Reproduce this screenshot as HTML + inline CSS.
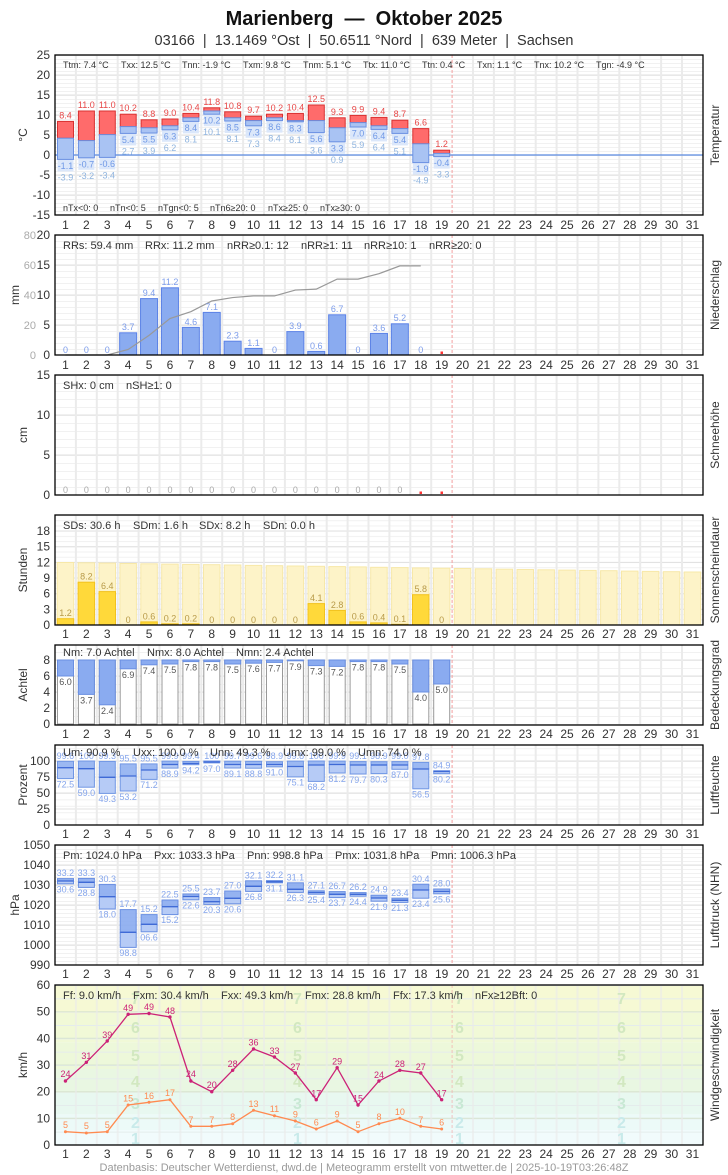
<!DOCTYPE html>
<html><head><meta charset="utf-8"><style>
html,body{margin:0;padding:0;background:#fff;}
svg{display:block;font-family:"Liberation Sans",sans-serif;}
.tk{font-size:12px;fill:#333;text-anchor:end}
.st{font-size:11px;fill:#333}
.st9{font-size:9px;fill:#333}
.rl{font-size:12px;fill:#333;text-anchor:middle}
.dl text{font-size:12px;fill:#333;text-anchor:middle}
.v9{font-size:9px;text-anchor:middle}
</style></head><body>
<svg width="728" height="1175" viewBox="0 0 728 1175" xmlns="http://www.w3.org/2000/svg">
<defs>
<g id="vg" stroke="#ebebeb" stroke-width="2">
<line x1="75.9" y1="0" x2="75.9" y2="1" vector-effect="non-scaling-stroke"/><line x1="96.8" y1="0" x2="96.8" y2="1" vector-effect="non-scaling-stroke"/><line x1="117.7" y1="0" x2="117.7" y2="1" vector-effect="non-scaling-stroke"/><line x1="138.6" y1="0" x2="138.6" y2="1" vector-effect="non-scaling-stroke"/><line x1="159.5" y1="0" x2="159.5" y2="1" vector-effect="non-scaling-stroke"/><line x1="180.4" y1="0" x2="180.4" y2="1" vector-effect="non-scaling-stroke"/><line x1="201.3" y1="0" x2="201.3" y2="1" vector-effect="non-scaling-stroke"/><line x1="222.2" y1="0" x2="222.2" y2="1" vector-effect="non-scaling-stroke"/><line x1="243.1" y1="0" x2="243.1" y2="1" vector-effect="non-scaling-stroke"/><line x1="264" y1="0" x2="264" y2="1" vector-effect="non-scaling-stroke"/><line x1="284.9" y1="0" x2="284.9" y2="1" vector-effect="non-scaling-stroke"/><line x1="305.8" y1="0" x2="305.8" y2="1" vector-effect="non-scaling-stroke"/><line x1="326.7" y1="0" x2="326.7" y2="1" vector-effect="non-scaling-stroke"/><line x1="347.6" y1="0" x2="347.6" y2="1" vector-effect="non-scaling-stroke"/><line x1="368.5" y1="0" x2="368.5" y2="1" vector-effect="non-scaling-stroke"/><line x1="389.4" y1="0" x2="389.4" y2="1" vector-effect="non-scaling-stroke"/><line x1="410.3" y1="0" x2="410.3" y2="1" vector-effect="non-scaling-stroke"/><line x1="431.2" y1="0" x2="431.2" y2="1" vector-effect="non-scaling-stroke"/><line x1="473" y1="0" x2="473" y2="1" vector-effect="non-scaling-stroke"/><line x1="493.9" y1="0" x2="493.9" y2="1" vector-effect="non-scaling-stroke"/><line x1="514.8" y1="0" x2="514.8" y2="1" vector-effect="non-scaling-stroke"/><line x1="535.7" y1="0" x2="535.7" y2="1" vector-effect="non-scaling-stroke"/><line x1="556.6" y1="0" x2="556.6" y2="1" vector-effect="non-scaling-stroke"/><line x1="577.5" y1="0" x2="577.5" y2="1" vector-effect="non-scaling-stroke"/><line x1="598.4" y1="0" x2="598.4" y2="1" vector-effect="non-scaling-stroke"/><line x1="619.3" y1="0" x2="619.3" y2="1" vector-effect="non-scaling-stroke"/><line x1="640.2" y1="0" x2="640.2" y2="1" vector-effect="non-scaling-stroke"/><line x1="661.1" y1="0" x2="661.1" y2="1" vector-effect="non-scaling-stroke"/><line x1="682" y1="0" x2="682" y2="1" vector-effect="non-scaling-stroke"/>
<line x1="452.1" y1="0" x2="452.1" y2="1" stroke="#f4a0a0" stroke-width="1" stroke-dasharray="3,2" vector-effect="non-scaling-stroke"/>
</g>
<g id="dl" class="dl"><text x="65.45">1</text><text x="86.35">2</text><text x="107.25">3</text><text x="128.15">4</text><text x="149.05">5</text><text x="169.95">6</text><text x="190.85">7</text><text x="211.75">8</text><text x="232.65">9</text><text x="253.55">10</text><text x="274.45">11</text><text x="295.35">12</text><text x="316.25">13</text><text x="337.15">14</text><text x="358.05">15</text><text x="378.95">16</text><text x="399.85">17</text><text x="420.75">18</text><text x="441.65">19</text><text x="462.55">20</text><text x="483.45">21</text><text x="504.35">22</text><text x="525.25">23</text><text x="546.15">24</text><text x="567.05">25</text><text x="587.95">26</text><text x="608.85">27</text><text x="629.75">28</text><text x="650.65">29</text><text x="671.55">30</text><text x="692.45">31</text></g>
<pattern id="p4" patternUnits="userSpaceOnUse" width="10" height="4" y="55"><line x1="0" y1="0.5" x2="10" y2="0.5" stroke="#f1f1f1" stroke-width="1"/></pattern>
<pattern id="p6" patternUnits="userSpaceOnUse" width="10" height="6" y="235"><line x1="0" y1="0.5" x2="10" y2="0.5" stroke="#f1f1f1" stroke-width="1"/></pattern>
<pattern id="p8" patternUnits="userSpaceOnUse" width="10" height="8" y="375"><line x1="0" y1="0.5" x2="10" y2="0.5" stroke="#f1f1f1" stroke-width="1"/></pattern>
<pattern id="p5" patternUnits="userSpaceOnUse" width="10" height="5.22" y="515"><line x1="0" y1="0.5" x2="10" y2="0.5" stroke="#f1f1f1" stroke-width="1"/></pattern>
<pattern id="pc" patternUnits="userSpaceOnUse" width="10" height="8" y="644"><line x1="0" y1="0.5" x2="10" y2="0.5" stroke="#f1f1f1" stroke-width="1"/></pattern>
<pattern id="ph" patternUnits="userSpaceOnUse" width="10" height="6.4" y="825"><line x1="0" y1="0.5" x2="10" y2="0.5" stroke="#f1f1f1" stroke-width="1"/></pattern>
<pattern id="pp" patternUnits="userSpaceOnUse" width="10" height="4" y="845"><line x1="0" y1="0.5" x2="10" y2="0.5" stroke="#f1f1f1" stroke-width="1"/></pattern>
<pattern id="pw" patternUnits="userSpaceOnUse" width="10" height="13.33" y="985"><line x1="0" y1="0.5" x2="10" y2="0.5" stroke="#e4ecec" stroke-width="1"/></pattern>
</defs>

<!-- Title -->
<text x="364" y="25" font-size="20" font-weight="bold" text-anchor="middle" fill="#111" xml:space="preserve">Marienberg  —  Oktober 2025</text>
<text x="364" y="45" font-size="14.5" text-anchor="middle" fill="#333" xml:space="preserve">03166  |  13.1469 °Ost  |  50.6511 °Nord  |  639 Meter  |  Sachsen</text>

<!-- ===== Temperature ===== -->
<rect x="55" y="55" width="648" height="160" fill="url(#p4)"/>
<g stroke="#e0e0e0" stroke-width="1"><line x1="55" y1="75" x2="703" y2="75"/><line x1="55" y1="95" x2="703" y2="95"/><line x1="55" y1="115" x2="703" y2="115"/><line x1="55" y1="135" x2="703" y2="135"/><line x1="55" y1="175" x2="703" y2="175"/><line x1="55" y1="195" x2="703" y2="195"/></g>
<use href="#vg" transform="translate(0,55) scale(1,160)"/>
<line x1="55" y1="155" x2="703" y2="155" stroke="#5a8ae0" stroke-width="1.2"/>
<g class="tk"><text x="50" y="59">25</text><text x="50" y="79">20</text><text x="50" y="99">15</text><text x="50" y="119">10</text><text x="50" y="139">5</text><text x="50" y="159">0</text><text x="50" y="179">-5</text><text x="50" y="199">-10</text><text x="50" y="219">-15</text></g>
<text transform="translate(27,135) rotate(-90)" class="rl">°C</text>
<text transform="translate(719,135) rotate(-90)" class="rl">Temperatur</text>
<g fill="#dbe7fa">
<rect x="57.5" y="159.4" width="16" height="12"/><rect x="78.4" y="157.8" width="16" height="12"/><rect x="99.3" y="157.4" width="16" height="12"/><rect x="120.2" y="133.4" width="16" height="12"/><rect x="141.1" y="133" width="16" height="12"/><rect x="162" y="129.8" width="16" height="12"/><rect x="182.9" y="121.4" width="16" height="12"/><rect x="203.8" y="114.2" width="16" height="12"/><rect x="224.7" y="121" width="16" height="12"/><rect x="245.6" y="125.8" width="16" height="12"/><rect x="266.5" y="120.6" width="16" height="12"/><rect x="287.4" y="121.8" width="16" height="12"/><rect x="308.3" y="132.6" width="16" height="12"/><rect x="329.2" y="141.8" width="16" height="12"/><rect x="350.1" y="127" width="16" height="12"/><rect x="371" y="129.4" width="16" height="12"/><rect x="391.9" y="133.4" width="16" height="12"/><rect x="412.8" y="162.6" width="16" height="12"/><rect x="433.7" y="156.6" width="16" height="12"/>
</g>
<g fill="#ff6b6b" stroke="#d83030" stroke-width="1">
<rect x="57.5" y="121.4" width="16" height="16.8"/><rect x="78.4" y="111" width="16" height="29.6"/><rect x="99.3" y="111" width="16" height="23.6"/><rect x="120.2" y="114.2" width="16" height="12.4"/><rect x="141.1" y="119.8" width="16" height="8"/><rect x="162" y="119" width="16" height="6.8"/><rect x="182.9" y="113.4" width="16" height="4.4"/><rect x="203.8" y="107.8" width="16" height="3.2"/><rect x="224.7" y="111.8" width="16" height="6"/><rect x="245.6" y="116.2" width="16" height="4.4"/><rect x="266.5" y="114.2" width="16" height="3.6"/><rect x="287.4" y="113.4" width="16" height="7.2"/><rect x="308.3" y="105" width="16" height="15.6"/><rect x="329.2" y="117.8" width="16" height="10"/><rect x="350.1" y="115.4" width="16" height="7.2"/><rect x="371" y="117.4" width="16" height="8.4"/><rect x="391.9" y="120.2" width="16" height="8.4"/><rect x="412.8" y="128.6" width="16" height="15.2"/><rect x="433.7" y="150.2" width="16" height="3.2"/>
</g>
<g fill="#a9c3f3" stroke="#6a90e2" stroke-width="1">
<rect x="57.5" y="138.2" width="16" height="21.2"/><rect x="78.4" y="140.6" width="16" height="17.2"/><rect x="99.3" y="134.6" width="16" height="22.8"/><rect x="120.2" y="126.6" width="16" height="6.8"/><rect x="141.1" y="127.8" width="16" height="5.2"/><rect x="162" y="125.8" width="16" height="4"/><rect x="182.9" y="117.8" width="16" height="3.6"/><rect x="203.8" y="111" width="16" height="3.2"/><rect x="224.7" y="117.8" width="16" height="3.2"/><rect x="245.6" y="120.6" width="16" height="5.2"/><rect x="266.5" y="117.8" width="16" height="2.8"/><rect x="287.4" y="120.6" width="16" height="1.2"/><rect x="308.3" y="120.6" width="16" height="12"/><rect x="329.2" y="127.8" width="16" height="14"/><rect x="350.1" y="122.6" width="16" height="4.4"/><rect x="371" y="125.8" width="16" height="3.6"/><rect x="391.9" y="128.6" width="16" height="4.8"/><rect x="412.8" y="143.8" width="16" height="18.8"/><rect x="433.7" y="153.4" width="16" height="3.2"/>
</g>
<g class="v9" fill="#e84848">
<text x="65.45" y="118.4">8.4</text><text x="86.35" y="108">11.0</text><text x="107.25" y="108">11.0</text><text x="128.15" y="111.2">10.2</text><text x="149.05" y="116.8">8.8</text><text x="169.95" y="116">9.0</text><text x="190.85" y="110.4">10.4</text><text x="211.75" y="104.8">11.8</text><text x="232.65" y="108.8">10.8</text><text x="253.55" y="113.2">9.7</text><text x="274.45" y="111.2">10.2</text><text x="295.35" y="110.4">10.4</text><text x="316.25" y="102">12.5</text><text x="337.15" y="114.8">9.3</text><text x="358.05" y="112.4">9.9</text><text x="378.95" y="114.4">9.4</text><text x="399.85" y="117.2">8.7</text><text x="420.75" y="125.6">6.6</text><text x="441.65" y="147.2">1.2</text>
</g>
<g class="v9" fill="#6f98e6">
<text x="65.45" y="168.9">-1.1</text><text x="86.35" y="167.3">-0.7</text><text x="107.25" y="166.9">-0.6</text><text x="128.15" y="142.9">5.4</text><text x="149.05" y="142.5">5.5</text><text x="169.95" y="139.3">6.3</text><text x="190.85" y="130.9">8.4</text><text x="211.75" y="123.7">10.2</text><text x="232.65" y="130.5">8.5</text><text x="253.55" y="135.3">7.3</text><text x="274.45" y="130.1">8.6</text><text x="295.35" y="131.3">8.3</text><text x="316.25" y="142.1">5.6</text><text x="337.15" y="151.3">3.3</text><text x="358.05" y="136.5">7.0</text><text x="378.95" y="138.9">6.4</text><text x="399.85" y="142.9">5.4</text><text x="420.75" y="172.1">-1.9</text><text x="441.65" y="166.1">-0.4</text>
</g>
<g class="v9" fill="#8fb4df">
<text x="65.45" y="180.4">-3.9</text><text x="86.35" y="178.8">-3.2</text><text x="107.25" y="178.4">-3.4</text><text x="128.15" y="154.4">2.7</text><text x="149.05" y="154">3.9</text><text x="169.95" y="150.8">6.2</text><text x="190.85" y="142.4">8.1</text><text x="211.75" y="135.2">10.1</text><text x="232.65" y="142">8.1</text><text x="253.55" y="146.8">7.3</text><text x="274.45" y="141.6">8.4</text><text x="295.35" y="142.8">8.1</text><text x="316.25" y="153.6">3.6</text><text x="337.15" y="162.8">0.9</text><text x="358.05" y="148">5.9</text><text x="378.95" y="150.4">6.4</text><text x="399.85" y="154.4">5.1</text><text x="420.75" y="183.6">-4.9</text><text x="441.65" y="177.6">-3.3</text>
</g>
<g class="st9"><text x="63" y="68">Ttm: 7.4 °C</text><text x="121" y="68">Txx: 12.5 °C</text><text x="182" y="68">Tnn: -1.9 °C</text><text x="243" y="68">Txm: 9.8 °C</text><text x="303" y="68">Tnm: 5.1 °C</text><text x="363" y="68">Ttx: 11.0 °C</text><text x="422" y="68">Ttn: 0.4 °C</text><text x="477" y="68">Txn: 1.1 °C</text><text x="534" y="68">Tnx: 10.2 °C</text><text x="596" y="68">Tgn: -4.9 °C</text>
<text x="63" y="211">nTx&lt;0: 0</text><text x="110" y="211">nTn&lt;0: 5</text><text x="158" y="211">nTgn&lt;0: 5</text><text x="210" y="211">nTn6≥20: 0</text><text x="268" y="211">nTx≥25: 0</text><text x="320" y="211">nTx≥30: 0</text></g>
<rect x="55" y="55" width="648" height="160" fill="none" stroke="#000" stroke-width="1.3"/>
<use href="#dl" transform="translate(0,229)"/>

<!-- ===== Precipitation ===== -->
<rect x="55" y="235" width="648" height="120" fill="url(#p6)"/>
<g stroke="#e0e0e0"><line x1="55" y1="265" x2="703" y2="265"/><line x1="55" y1="295" x2="703" y2="295"/><line x1="55" y1="325" x2="703" y2="325"/></g>
<use href="#vg" transform="translate(0,235) scale(1,120)"/>
<g class="tk"><text x="50" y="239">20</text><text x="50" y="269">15</text><text x="50" y="299">10</text><text x="50" y="329">5</text><text x="50" y="359">0</text></g>
<g font-size="11" fill="#aaa" text-anchor="end"><text x="36" y="239">80</text><text x="36" y="269">60</text><text x="36" y="299">40</text><text x="36" y="329">20</text><text x="36" y="359">0</text></g>
<text transform="translate(19,295) rotate(-90)" class="rl">mm</text>
<text transform="translate(719,295) rotate(-90)" class="rl">Niederschlag</text>
<g fill="#8aabf0" stroke="#5b82e6">
<rect x="119.65" y="332.8" width="17" height="22.2"/><rect x="140.55" y="298.6" width="17" height="56.4"/><rect x="161.45" y="287.8" width="17" height="67.2"/><rect x="182.35" y="327.4" width="17" height="27.6"/><rect x="203.25" y="312.4" width="17" height="42.6"/><rect x="224.15" y="341.2" width="17" height="13.8"/><rect x="245.05" y="348.4" width="17" height="6.6"/><rect x="286.85" y="331.6" width="17" height="23.4"/><rect x="307.75" y="351.4" width="17" height="3.6"/><rect x="328.65" y="314.8" width="17" height="40.2"/><rect x="370.45" y="333.4" width="17" height="21.6"/><rect x="391.35" y="323.8" width="17" height="31.2"/>
</g>
<polyline fill="none" stroke="#999" stroke-width="1.2" points="65.45,355 86.35,355 107.25,355 128.15,349.45 149.05,335.35 169.95,318.55 190.85,311.65 211.75,301 232.65,297.55 253.55,295.9 274.45,295.9 295.35,290.05 316.25,289.15 337.15,279.1 358.05,279.1 378.95,273.7 399.85,265.9 420.75,265.9"/>
<g class="v9" fill="#7d9deb">
<text x="65.45" y="353">0</text><text x="86.35" y="353">0</text><text x="107.25" y="353">0</text><text x="128.15" y="330">3.7</text><text x="149.05" y="296">9.4</text><text x="169.95" y="285">11.2</text><text x="190.85" y="325">4.6</text><text x="211.75" y="310">7.1</text><text x="232.65" y="338.5">2.3</text><text x="253.55" y="346">1.1</text><text x="274.45" y="353">0</text><text x="295.35" y="329">3.9</text><text x="316.25" y="349">0.6</text><text x="337.15" y="312">6.7</text><text x="358.05" y="353">0</text><text x="378.95" y="331">3.6</text><text x="399.85" y="321">5.2</text><text x="420.75" y="353">0</text>
</g>
<rect x="440.5" y="351.5" width="2.5" height="2.5" fill="#f33"/>
<g class="st"><text x="63" y="249">RRs: 59.4 mm</text><text x="145" y="249">RRx: 11.2 mm</text><text x="227" y="249">nRR≥0.1: 12</text><text x="301" y="249">nRR≥1: 11</text><text x="364" y="249">nRR≥10: 1</text><text x="429" y="249">nRR≥20: 0</text></g>
<rect x="55" y="235" width="648" height="120" fill="none" stroke="#000" stroke-width="1.3"/>
<use href="#dl" transform="translate(0,369)"/>

<!-- ===== Snow ===== -->
<rect x="55" y="375" width="648" height="120" fill="url(#p8)"/>
<g stroke="#e0e0e0"><line x1="55" y1="415" x2="703" y2="415"/><line x1="55" y1="455" x2="703" y2="455"/></g>
<use href="#vg" transform="translate(0,375) scale(1,120)"/>
<g class="tk"><text x="50" y="379">15</text><text x="50" y="419">10</text><text x="50" y="459">5</text><text x="50" y="499">0</text></g>
<text transform="translate(27,435) rotate(-90)" class="rl">cm</text>
<text transform="translate(719,435) rotate(-90)" class="rl">Schneehöhe</text>
<g class="v9" fill="#aaa">
<text x="65.45" y="493">0</text><text x="86.35" y="493">0</text><text x="107.25" y="493">0</text><text x="128.15" y="493">0</text><text x="149.05" y="493">0</text><text x="169.95" y="493">0</text><text x="190.85" y="493">0</text><text x="211.75" y="493">0</text><text x="232.65" y="493">0</text><text x="253.55" y="493">0</text><text x="274.45" y="493">0</text><text x="295.35" y="493">0</text><text x="316.25" y="493">0</text><text x="337.15" y="493">0</text><text x="358.05" y="493">0</text><text x="378.95" y="493">0</text><text x="399.85" y="493">0</text>
</g>
<rect x="419.5" y="491.5" width="2.5" height="2.5" fill="#f33"/><rect x="440.5" y="491.5" width="2.5" height="2.5" fill="#f33"/>
<g class="st"><text x="63" y="389">SHx: 0 cm</text><text x="126" y="389">nSH≥1: 0</text></g>
<rect x="55" y="375" width="648" height="120" fill="none" stroke="#000" stroke-width="1.3"/>

<!-- ===== Sunshine ===== -->
<rect x="55" y="515" width="648" height="110" fill="url(#p5)"/>
<g stroke="#e0e0e0"><line x1="55" y1="531" x2="703" y2="531"/><line x1="55" y1="546.7" x2="703" y2="546.7"/><line x1="55" y1="562.4" x2="703" y2="562.4"/><line x1="55" y1="578" x2="703" y2="578"/><line x1="55" y1="593.7" x2="703" y2="593.7"/><line x1="55" y1="609.3" x2="703" y2="609.3"/></g>
<use href="#vg" transform="translate(0,515) scale(1,110)"/>
<g class="tk"><text x="50" y="535">18</text><text x="50" y="550.7">15</text><text x="50" y="566.4">12</text><text x="50" y="582">9</text><text x="50" y="597.7">6</text><text x="50" y="613.3">3</text><text x="50" y="629">0</text></g>
<text transform="translate(27,570) rotate(-90)" class="rl">Stunden</text>
<text transform="translate(719,570) rotate(-90)" class="rl">Sonnenscheindauer</text>
<g fill="#fdf3c8" stroke="#f7e8a8" stroke-width="1">
<rect x="57.2" y="562.5" width="16.5" height="62.5"/><rect x="78.1" y="562.8" width="16.5" height="62.2"/><rect x="99" y="563.1" width="16.5" height="61.9"/><rect x="119.9" y="563.5" width="16.5" height="61.5"/><rect x="140.8" y="563.8" width="16.5" height="61.2"/><rect x="161.7" y="564.1" width="16.5" height="60.9"/><rect x="182.6" y="564.4" width="16.5" height="60.6"/><rect x="203.5" y="564.7" width="16.5" height="60.3"/><rect x="224.4" y="565" width="16.5" height="60"/><rect x="245.3" y="565.4" width="16.5" height="59.6"/><rect x="266.2" y="565.7" width="16.5" height="59.3"/><rect x="287.1" y="566" width="16.5" height="59"/><rect x="308" y="566.3" width="16.5" height="58.7"/><rect x="328.9" y="566.6" width="16.5" height="58.4"/><rect x="349.8" y="566.9" width="16.5" height="58.1"/><rect x="370.7" y="567.3" width="16.5" height="57.7"/><rect x="391.6" y="567.6" width="16.5" height="57.4"/><rect x="412.5" y="567.9" width="16.5" height="57.1"/><rect x="433.4" y="568.2" width="16.5" height="56.8"/><rect x="454.3" y="568.5" width="16.5" height="56.5"/><rect x="475.2" y="568.8" width="16.5" height="56.2"/><rect x="496.1" y="569.2" width="16.5" height="55.8"/><rect x="517" y="569.5" width="16.5" height="55.5"/><rect x="537.9" y="569.8" width="16.5" height="55.2"/><rect x="558.8" y="570.1" width="16.5" height="54.9"/><rect x="579.7" y="570.4" width="16.5" height="54.6"/><rect x="600.6" y="570.7" width="16.5" height="54.3"/><rect x="621.5" y="571.1" width="16.5" height="53.9"/><rect x="642.4" y="571.4" width="16.5" height="53.6"/><rect x="663.3" y="571.7" width="16.5" height="53.3"/><rect x="684.2" y="572" width="16.5" height="53"/>
</g>
<g fill="#ffd93a" stroke="#f2c21e">
<rect x="57.2" y="618.7" width="16.5" height="6.3"/><rect x="78.1" y="582.2" width="16.5" height="42.8"/><rect x="99" y="591.6" width="16.5" height="33.4"/><rect x="140.8" y="621.9" width="16.5" height="3.1"/><rect x="161.7" y="623.8" width="16.5" height="1.2"/><rect x="182.6" y="623.8" width="16.5" height="1.2"/><rect x="308" y="603.6" width="16.5" height="21.4"/><rect x="328.9" y="610.4" width="16.5" height="14.6"/><rect x="349.8" y="621.9" width="16.5" height="3.1"/><rect x="370.7" y="622.9" width="16.5" height="2.1"/><rect x="391.6" y="624.3" width="16.5" height="0.7"/><rect x="412.5" y="594.7" width="16.5" height="30.3"/>
</g>
<g class="v9" fill="#b89a48">
<text x="65.45" y="616">1.2</text><text x="86.35" y="579.5">8.2</text><text x="107.25" y="589">6.4</text><text x="128.15" y="623">0</text><text x="149.05" y="619.5">0.6</text><text x="169.95" y="621.5">0.2</text><text x="190.85" y="621.5">0.2</text><text x="211.75" y="623">0</text><text x="232.65" y="623">0</text><text x="253.55" y="623">0</text><text x="274.45" y="623">0</text><text x="295.35" y="623">0</text><text x="316.25" y="601">4.1</text><text x="337.15" y="608">2.8</text><text x="358.05" y="619.5">0.6</text><text x="378.95" y="620.5">0.4</text><text x="399.85" y="622">0.1</text><text x="420.75" y="592">5.8</text><text x="441.65" y="623">0</text>
</g>
<g class="st"><text x="63" y="529">SDs: 30.6 h</text><text x="133" y="529">SDm: 1.6 h</text><text x="199" y="529">SDx: 8.2 h</text><text x="263" y="529">SDn: 0.0 h</text></g>
<rect x="55" y="515" width="648" height="110" fill="none" stroke="#000" stroke-width="1.3"/>
<use href="#dl" transform="translate(0,638)"/>

<!-- ===== Cloud ===== -->
<rect x="55" y="645" width="648" height="80" fill="url(#pc)"/>
<g stroke="#e0e0e0"><line x1="55" y1="660" x2="703" y2="660"/><line x1="55" y1="676" x2="703" y2="676"/><line x1="55" y1="692" x2="703" y2="692"/><line x1="55" y1="708" x2="703" y2="708"/></g>
<use href="#vg" transform="translate(0,645) scale(1,80)"/>
<g class="tk"><text x="50" y="664">8</text><text x="50" y="680">6</text><text x="50" y="696">4</text><text x="50" y="712">2</text><text x="50" y="728">0</text></g>
<text transform="translate(27,685) rotate(-90)" class="rl">Achtel</text>
<text transform="translate(719,685) rotate(-90)" class="rl">Bedeckungsgrad</text>
<g fill="#fff" stroke="#999">
<rect x="57.5" y="660" width="16" height="64"/><rect x="78.4" y="660" width="16" height="64"/><rect x="99.3" y="660" width="16" height="64"/><rect x="120.2" y="660" width="16" height="64"/><rect x="141.1" y="660" width="16" height="64"/><rect x="162" y="660" width="16" height="64"/><rect x="182.9" y="660" width="16" height="64"/><rect x="203.8" y="660" width="16" height="64"/><rect x="224.7" y="660" width="16" height="64"/><rect x="245.6" y="660" width="16" height="64"/><rect x="266.5" y="660" width="16" height="64"/><rect x="287.4" y="660" width="16" height="64"/><rect x="308.3" y="660" width="16" height="64"/><rect x="329.2" y="660" width="16" height="64"/><rect x="350.1" y="660" width="16" height="64"/><rect x="371" y="660" width="16" height="64"/><rect x="391.9" y="660" width="16" height="64"/><rect x="412.8" y="660" width="16" height="64"/><rect x="433.7" y="660" width="16" height="64"/>
</g>
<g fill="#8aabf0" stroke="#6a8fe2">
<rect x="57.5" y="660" width="16" height="16"/><rect x="78.4" y="660" width="16" height="34.4"/><rect x="99.3" y="660" width="16" height="44.8"/><rect x="120.2" y="660" width="16" height="8.8"/><rect x="141.1" y="660" width="16" height="4.8"/><rect x="162" y="660" width="16" height="4"/><rect x="182.9" y="660" width="16" height="1.6"/><rect x="203.8" y="660" width="16" height="1.6"/><rect x="224.7" y="660" width="16" height="4"/><rect x="245.6" y="660" width="16" height="3.2"/><rect x="266.5" y="660" width="16" height="2.4"/><rect x="287.4" y="660" width="16" height="0.8"/><rect x="308.3" y="660" width="16" height="5.6"/><rect x="329.2" y="660" width="16" height="6.4"/><rect x="350.1" y="660" width="16" height="1.6"/><rect x="371" y="660" width="16" height="1.6"/><rect x="391.9" y="660" width="16" height="4"/><rect x="412.8" y="660" width="16" height="32"/><rect x="433.7" y="660" width="16" height="24"/>
</g>
<g class="v9" fill="#555">
<text x="65.45" y="685">6.0</text><text x="86.35" y="703.4">3.7</text><text x="107.25" y="713.8">2.4</text><text x="128.15" y="677.8">6.9</text><text x="149.05" y="673.8">7.4</text><text x="169.95" y="673">7.5</text><text x="190.85" y="670.6">7.8</text><text x="211.75" y="670.6">7.8</text><text x="232.65" y="673">7.5</text><text x="253.55" y="672.2">7.6</text><text x="274.45" y="671.4">7.7</text><text x="295.35" y="669.8">7.9</text><text x="316.25" y="674.6">7.3</text><text x="337.15" y="675.4">7.2</text><text x="358.05" y="670.6">7.8</text><text x="378.95" y="670.6">7.8</text><text x="399.85" y="673">7.5</text><text x="420.75" y="701">4.0</text><text x="441.65" y="693">5.0</text>
</g>
<g class="st"><text x="63" y="656">Nm: 7.0 Achtel</text><text x="147" y="656">Nmx: 8.0 Achtel</text><text x="236" y="656">Nmn: 2.4 Achtel</text></g>
<rect x="55" y="645" width="648" height="80" fill="none" stroke="#000" stroke-width="1.3"/>
<use href="#dl" transform="translate(0,738)"/>

<!-- ===== Humidity ===== -->
<rect x="55" y="745" width="648" height="80" fill="url(#ph)"/>
<g stroke="#e0e0e0"><line x1="55" y1="761" x2="703" y2="761"/><line x1="55" y1="777" x2="703" y2="777"/><line x1="55" y1="793" x2="703" y2="793"/><line x1="55" y1="809" x2="703" y2="809"/></g>
<use href="#vg" transform="translate(0,745) scale(1,80)"/>
<g class="tk"><text x="50" y="765">100</text><text x="50" y="781">75</text><text x="50" y="797">50</text><text x="50" y="813">25</text><text x="50" y="829">0</text></g>
<text transform="translate(27,785) rotate(-90)" class="rl">Prozent</text>
<text transform="translate(719,785) rotate(-90)" class="rl">Luftfeuchte</text>
<g fill="#8aabf0" stroke="#7096e4" fill-opacity="0.85">
<rect x="57.5" y="761.3" width="16" height="6.4"/><rect x="78.4" y="761" width="16" height="7.7"/><rect x="99.3" y="761.4" width="16" height="15.9"/><rect x="120.2" y="763.9" width="16" height="12.1"/><rect x="141.1" y="763.9" width="16" height="6.1"/><rect x="162" y="761.1" width="16" height="3.4"/><rect x="182.9" y="761.4" width="16" height="2.1"/><rect x="203.8" y="761" width="16" height="1"/><rect x="224.7" y="761.2" width="16" height="3.3"/><rect x="245.6" y="761.3" width="16" height="3.2"/><rect x="266.5" y="761.7" width="16" height="2.8"/><rect x="287.4" y="761.1" width="16" height="5.4"/><rect x="308.3" y="761" width="16" height="4"/><rect x="329.2" y="761.1" width="16" height="3.4"/><rect x="350.1" y="761.6" width="16" height="3.4"/><rect x="371" y="761.7" width="16" height="3.3"/><rect x="391.9" y="761.6" width="16" height="3.4"/><rect x="412.8" y="762.4" width="16" height="6.6"/><rect x="433.7" y="770.7" width="16" height="0.8"/>
</g>
<g fill="#b6cbf6" stroke="#7096e4">
<rect x="57.5" y="767.7" width="16" height="10.9"/><rect x="78.4" y="768.7" width="16" height="18.5"/><rect x="99.3" y="777.3" width="16" height="16.1"/><rect x="120.2" y="776" width="16" height="15"/><rect x="141.1" y="770" width="16" height="9.4"/><rect x="162" y="764.5" width="16" height="3.6"/><rect x="182.9" y="763.5" width="16" height="1.2"/><rect x="203.8" y="762" width="16" height="0.9"/><rect x="224.7" y="764.5" width="16" height="3.5"/><rect x="245.6" y="764.5" width="16" height="3.7"/><rect x="266.5" y="764.5" width="16" height="2.3"/><rect x="287.4" y="766.5" width="16" height="10.4"/><rect x="308.3" y="765" width="16" height="16.4"/><rect x="329.2" y="764.5" width="16" height="8.5"/><rect x="350.1" y="765" width="16" height="9"/><rect x="371" y="765" width="16" height="8.6"/><rect x="391.9" y="765" width="16" height="4.3"/><rect x="412.8" y="769" width="16" height="19.8"/><rect x="433.7" y="771.5" width="16" height="2.2"/>
</g>
<g stroke="#3f6ad6" stroke-width="1.3">
<line x1="57.5" y1="767.7" x2="73.5" y2="767.7"/><line x1="78.4" y1="768.7" x2="94.4" y2="768.7"/><line x1="99.3" y1="777.3" x2="115.3" y2="777.3"/><line x1="120.2" y1="776" x2="136.2" y2="776"/><line x1="141.1" y1="770" x2="157.1" y2="770"/><line x1="162" y1="764.5" x2="178" y2="764.5"/><line x1="182.9" y1="763.5" x2="198.9" y2="763.5"/><line x1="203.8" y1="762" x2="219.8" y2="762"/><line x1="224.7" y1="764.5" x2="240.7" y2="764.5"/><line x1="245.6" y1="764.5" x2="261.6" y2="764.5"/><line x1="266.5" y1="764.5" x2="282.5" y2="764.5"/><line x1="287.4" y1="766.5" x2="303.4" y2="766.5"/><line x1="308.3" y1="765" x2="324.3" y2="765"/><line x1="329.2" y1="764.5" x2="345.2" y2="764.5"/><line x1="350.1" y1="765" x2="366.1" y2="765"/><line x1="371" y1="765" x2="387" y2="765"/><line x1="391.9" y1="765" x2="407.9" y2="765"/><line x1="412.8" y1="769" x2="428.8" y2="769"/><line x1="433.7" y1="771.5" x2="449.7" y2="771.5"/>
</g>
<g class="v9" fill="#86a6ec">
<text x="65.45" y="759">99.6</text><text x="86.35" y="759">100</text><text x="107.25" y="759">99.3</text><text x="128.15" y="761.5">95.5</text><text x="149.05" y="761.5">95.5</text><text x="169.95" y="759">99.9</text><text x="190.85" y="759">99.4</text><text x="211.75" y="759">100</text><text x="232.65" y="759">99.7</text><text x="253.55" y="759">99.6</text><text x="274.45" y="759">98.9</text><text x="295.35" y="759">99.8</text><text x="316.25" y="759">100</text><text x="337.15" y="759">99.9</text><text x="358.05" y="759">99.1</text><text x="378.95" y="759">98.9</text><text x="399.85" y="759">99.0</text><text x="420.75" y="760">97.8</text><text x="441.65" y="768.5">84.9</text>
<text x="65.45" y="787.5">72.5</text><text x="86.35" y="796">59.0</text><text x="107.25" y="802">49.3</text><text x="128.15" y="800">53.2</text><text x="149.05" y="788">71.2</text><text x="169.95" y="777">88.9</text><text x="190.85" y="773.5">94.2</text><text x="211.75" y="772">97.0</text><text x="232.65" y="777">89.1</text><text x="253.55" y="777">88.8</text><text x="274.45" y="775.5">91.0</text><text x="295.35" y="785.5">75.1</text><text x="316.25" y="790">68.2</text><text x="337.15" y="782">81.2</text><text x="358.05" y="783">79.7</text><text x="378.95" y="782.5">80.3</text><text x="399.85" y="778">87.0</text><text x="420.75" y="797.5">56.5</text><text x="441.65" y="782.5">80.2</text>
</g>
<g class="st"><text x="63" y="756">Um: 90.9 %</text><text x="133" y="756">Uxx: 100.0 %</text><text x="210" y="756">Unn: 49.3 %</text><text x="283" y="756">Umx: 99.0 %</text><text x="358" y="756">Umn: 74.0 %</text></g>
<rect x="55" y="745" width="648" height="80" fill="none" stroke="#000" stroke-width="1.3"/>
<use href="#dl" transform="translate(0,838)"/>

<!-- ===== Pressure ===== -->
<rect x="55" y="845" width="648" height="120" fill="url(#pp)"/>
<g stroke="#e0e0e0"><line x1="55" y1="865" x2="703" y2="865"/><line x1="55" y1="885" x2="703" y2="885"/><line x1="55" y1="905" x2="703" y2="905"/><line x1="55" y1="925" x2="703" y2="925"/><line x1="55" y1="945" x2="703" y2="945"/></g>
<use href="#vg" transform="translate(0,845) scale(1,120)"/>
<g class="tk"><text x="50" y="849">1050</text><text x="50" y="869">1040</text><text x="50" y="889">1030</text><text x="50" y="909">1020</text><text x="50" y="929">1010</text><text x="50" y="949">1000</text><text x="50" y="969">990</text></g>
<text transform="translate(19,905) rotate(-90)" class="rl">hPa</text>
<text transform="translate(719,905) rotate(-90)" class="rl">Luftdruck (NHN)</text>
<g fill="#8aabf0" stroke="#6a8fe2" fill-opacity="0.9">
<rect x="57.5" y="878.6" width="16" height="2.4"/><rect x="78.4" y="878.4" width="16" height="3.9"/><rect x="99.3" y="884.4" width="16" height="12.3"/><rect x="120.2" y="909.6" width="16" height="22.7"/><rect x="141.1" y="914.6" width="16" height="9.7"/><rect x="162" y="900" width="16" height="6.7"/><rect x="182.9" y="894" width="16" height="2.5"/><rect x="203.8" y="897.6" width="16" height="4.1"/><rect x="224.7" y="891" width="16" height="7.3"/><rect x="245.6" y="880.8" width="16" height="5.5"/><rect x="266.5" y="880.6" width="16" height="1.1"/><rect x="287.4" y="882.8" width="16" height="6.5"/><rect x="308.3" y="890.8" width="16" height="1.7"/><rect x="329.2" y="891.6" width="16" height="2.7"/><rect x="350.1" y="892.6" width="16" height="1.8"/><rect x="371" y="895.2" width="16" height="2.8"/><rect x="391.9" y="898.2" width="16" height="2.1"/><rect x="412.8" y="884.2" width="16" height="5.8"/><rect x="433.7" y="889" width="16" height="2.5"/>
</g>
<g fill="#b6cbf6" stroke="#6a8fe2">
<rect x="57.5" y="881" width="16" height="2.8"/><rect x="78.4" y="882.3" width="16" height="5.1"/><rect x="99.3" y="896.7" width="16" height="12.3"/><rect x="120.2" y="932.3" width="16" height="15.1"/><rect x="141.1" y="924.3" width="16" height="7.5"/><rect x="162" y="906.7" width="16" height="7.9"/><rect x="182.9" y="896.5" width="16" height="3.3"/><rect x="203.8" y="901.7" width="16" height="2.7"/><rect x="224.7" y="898.3" width="16" height="5.5"/><rect x="245.6" y="886.3" width="16" height="5.1"/><rect x="266.5" y="881.7" width="16" height="1.1"/><rect x="287.4" y="889.3" width="16" height="3.1"/><rect x="308.3" y="892.5" width="16" height="1.7"/><rect x="329.2" y="894.3" width="16" height="3.3"/><rect x="350.1" y="894.4" width="16" height="1.8"/><rect x="371" y="898" width="16" height="3.2"/><rect x="391.9" y="900.3" width="16" height="2.1"/><rect x="412.8" y="890" width="16" height="8.2"/><rect x="433.7" y="891.5" width="16" height="2.3"/>
</g>
<g stroke="#3f6ad6" stroke-width="1.3">
<line x1="57.5" y1="881" x2="73.5" y2="881"/><line x1="78.4" y1="882.3" x2="94.4" y2="882.3"/><line x1="99.3" y1="896.7" x2="115.3" y2="896.7"/><line x1="120.2" y1="932.3" x2="136.2" y2="932.3"/><line x1="141.1" y1="924.3" x2="157.1" y2="924.3"/><line x1="162" y1="906.7" x2="178" y2="906.7"/><line x1="182.9" y1="896.5" x2="198.9" y2="896.5"/><line x1="203.8" y1="901.7" x2="219.8" y2="901.7"/><line x1="224.7" y1="898.3" x2="240.7" y2="898.3"/><line x1="245.6" y1="886.3" x2="261.6" y2="886.3"/><line x1="266.5" y1="881.7" x2="282.5" y2="881.7"/><line x1="287.4" y1="889.3" x2="303.4" y2="889.3"/><line x1="308.3" y1="892.5" x2="324.3" y2="892.5"/><line x1="329.2" y1="894.3" x2="345.2" y2="894.3"/><line x1="350.1" y1="894.4" x2="366.1" y2="894.4"/><line x1="371" y1="898" x2="387" y2="898"/><line x1="391.9" y1="900.3" x2="407.9" y2="900.3"/><line x1="412.8" y1="890" x2="428.8" y2="890"/><line x1="433.7" y1="891.5" x2="449.7" y2="891.5"/>
</g>
<g class="v9" fill="#86a6ec">
<text x="65.45" y="876">33.2</text><text x="86.35" y="876">33.3</text><text x="107.25" y="882">30.3</text><text x="128.15" y="907">17.7</text><text x="149.05" y="912">15.2</text><text x="169.95" y="897.5">22.5</text><text x="190.85" y="891.5">25.5</text><text x="211.75" y="895">23.7</text><text x="232.65" y="888.5">27.0</text><text x="253.55" y="878.5">32.1</text><text x="274.45" y="878">32.2</text><text x="295.35" y="880.5">31.1</text><text x="316.25" y="888.5">27.1</text><text x="337.15" y="889">26.7</text><text x="358.05" y="890">26.2</text><text x="378.95" y="892.5">24.9</text><text x="399.85" y="896">23.4</text><text x="420.75" y="882">30.4</text><text x="441.65" y="886.5">28.0</text>
<text x="65.45" y="892.5">30.6</text><text x="86.35" y="896">28.8</text><text x="107.25" y="917.5">18.0</text><text x="128.15" y="956">98.8</text><text x="149.05" y="940.5">06.6</text><text x="169.95" y="923">15.2</text><text x="190.85" y="908.5">22.6</text><text x="211.75" y="913">20.3</text><text x="232.65" y="912.5">20.6</text><text x="253.55" y="900">26.8</text><text x="274.45" y="891.5">31.1</text><text x="295.35" y="901">26.3</text><text x="316.25" y="903">25.4</text><text x="337.15" y="906">23.7</text><text x="358.05" y="905">24.4</text><text x="378.95" y="910">21.9</text><text x="399.85" y="911">21.3</text><text x="420.75" y="907">23.4</text><text x="441.65" y="902.5">25.6</text>
</g>
<g class="st"><text x="63" y="859">Pm: 1024.0 hPa</text><text x="154" y="859">Pxx: 1033.3 hPa</text><text x="247" y="859">Pnn: 998.8 hPa</text><text x="335" y="859">Pmx: 1031.8 hPa</text><text x="431" y="859">Pmn: 1006.3 hPa</text></g>
<rect x="55" y="845" width="648" height="120" fill="none" stroke="#000" stroke-width="1.3"/>
<use href="#dl" transform="translate(0,978)"/>

<!-- ===== Wind ===== -->
<rect x="55" y="1130.3" width="648" height="14.7" fill="#f1fbfc"/>
<rect x="55" y="1114.3" width="648" height="16" fill="#ecfaf8"/>
<rect x="55" y="1093" width="648" height="21.3" fill="#e8f8f0"/>
<rect x="55" y="1069" width="648" height="24" fill="#e9f7e2"/>
<rect x="55" y="1042.3" width="648" height="26.7" fill="#edf8da"/>
<rect x="55" y="1013" width="648" height="29.3" fill="#f1f9d7"/>
<rect x="55" y="985" width="648" height="28" fill="#f6f9d4"/>
<rect x="55" y="985" width="648" height="160" fill="url(#pw)"/>
<g stroke="#d8e4d0"><line x1="55" y1="1011.7" x2="703" y2="1011.7"/><line x1="55" y1="1038.3" x2="703" y2="1038.3"/><line x1="55" y1="1065" x2="703" y2="1065"/><line x1="55" y1="1091.7" x2="703" y2="1091.7"/><line x1="55" y1="1118.3" x2="703" y2="1118.3"/></g>
<use href="#vg" transform="translate(0,985) scale(1,160)" opacity="0.6"/>
<g font-size="16" font-weight="bold" text-anchor="middle">
<g fill="#c8eaea"><text x="135.5" y="1144">1</text><text x="297.5" y="1144">1</text><text x="459.5" y="1144">1</text><text x="621.5" y="1144">1</text>
<text x="135.5" y="1128">2</text><text x="297.5" y="1128">2</text><text x="459.5" y="1128">2</text><text x="621.5" y="1128">2</text></g>
<g fill="#c8e8d4"><text x="135.5" y="1109">3</text><text x="297.5" y="1109">3</text><text x="459.5" y="1109">3</text><text x="621.5" y="1109">3</text></g>
<g fill="#d2e8c0"><text x="135.5" y="1087">4</text><text x="297.5" y="1087">4</text><text x="459.5" y="1087">4</text><text x="621.5" y="1087">4</text>
<text x="135.5" y="1061">5</text><text x="297.5" y="1061">5</text><text x="459.5" y="1061">5</text><text x="621.5" y="1061">5</text>
<text x="135.5" y="1033">6</text><text x="297.5" y="1033">6</text><text x="459.5" y="1033">6</text><text x="621.5" y="1033">6</text>
<text x="135.5" y="1004">7</text><text x="297.5" y="1004">7</text><text x="459.5" y="1004">7</text><text x="621.5" y="1004">7</text></g>
</g>
<g class="tk"><text x="50" y="989">60</text><text x="50" y="1015.7">50</text><text x="50" y="1042.3">40</text><text x="50" y="1069">30</text><text x="50" y="1095.7">20</text><text x="50" y="1122.3">10</text><text x="50" y="1149">0</text></g>
<text transform="translate(27,1065) rotate(-90)" class="rl">km/h</text>
<text transform="translate(719,1065) rotate(-90)" class="rl">Windgeschwindigkeit</text>
<polyline fill="none" stroke="#ff8a50" stroke-width="1.3" points="65.45,1131.7 86.35,1133 107.25,1131.7 128.15,1105 149.05,1102.3 169.95,1099.7 190.85,1126.3 211.75,1126.3 232.65,1123.7 253.55,1110.3 274.45,1115.7 295.35,1121 316.25,1129 337.15,1121 358.05,1131.7 378.95,1123.7 399.85,1118.3 420.75,1126.3 441.65,1129"/>
<polyline fill="none" stroke="#cc2277" stroke-width="1.3" points="65.45,1081 86.35,1062.3 107.25,1041 128.15,1014.3 149.05,1013.5 169.95,1017 190.85,1081 211.75,1091.7 232.65,1070.3 253.55,1049 274.45,1057 295.35,1073 316.25,1099.7 337.15,1067.7 358.05,1105 378.95,1081 399.85,1070.3 420.75,1073 441.65,1099.7"/>
<g fill="#ff8a50"><circle cx="65.45" cy="1131.7" r="1.5"/><circle cx="86.35" cy="1133" r="1.5"/><circle cx="107.25" cy="1131.7" r="1.5"/><circle cx="128.15" cy="1105" r="1.5"/><circle cx="149.05" cy="1102.3" r="1.5"/><circle cx="169.95" cy="1099.7" r="1.5"/><circle cx="190.85" cy="1126.3" r="1.5"/><circle cx="211.75" cy="1126.3" r="1.5"/><circle cx="232.65" cy="1123.7" r="1.5"/><circle cx="253.55" cy="1110.3" r="1.5"/><circle cx="274.45" cy="1115.7" r="1.5"/><circle cx="295.35" cy="1121" r="1.5"/><circle cx="316.25" cy="1129" r="1.5"/><circle cx="337.15" cy="1121" r="1.5"/><circle cx="358.05" cy="1131.7" r="1.5"/><circle cx="378.95" cy="1123.7" r="1.5"/><circle cx="399.85" cy="1118.3" r="1.5"/><circle cx="420.75" cy="1126.3" r="1.5"/><circle cx="441.65" cy="1129" r="1.5"/></g>
<g fill="#cc2277"><circle cx="65.45" cy="1081" r="1.7"/><circle cx="86.35" cy="1062.3" r="1.7"/><circle cx="107.25" cy="1041" r="1.7"/><circle cx="128.15" cy="1014.3" r="1.7"/><circle cx="149.05" cy="1013.5" r="1.7"/><circle cx="169.95" cy="1017" r="1.7"/><circle cx="190.85" cy="1081" r="1.7"/><circle cx="211.75" cy="1091.7" r="1.7"/><circle cx="232.65" cy="1070.3" r="1.7"/><circle cx="253.55" cy="1049" r="1.7"/><circle cx="274.45" cy="1057" r="1.7"/><circle cx="295.35" cy="1073" r="1.7"/><circle cx="316.25" cy="1099.7" r="1.7"/><circle cx="337.15" cy="1067.7" r="1.7"/><circle cx="358.05" cy="1105" r="1.7"/><circle cx="378.95" cy="1081" r="1.7"/><circle cx="399.85" cy="1070.3" r="1.7"/><circle cx="420.75" cy="1073" r="1.7"/><circle cx="441.65" cy="1099.7" r="1.7"/></g>
<g class="v9" fill="#ff8a50">
<text x="65.45" y="1128">5</text><text x="86.35" y="1129">5</text><text x="107.25" y="1128">5</text><text x="128.15" y="1101.5">15</text><text x="149.05" y="1099">16</text><text x="169.95" y="1096">17</text><text x="190.85" y="1123">7</text><text x="211.75" y="1123">7</text><text x="232.65" y="1120">8</text><text x="253.55" y="1107">13</text><text x="274.45" y="1112">11</text><text x="295.35" y="1117.5">9</text><text x="316.25" y="1125.5">6</text><text x="337.15" y="1117.5">9</text><text x="358.05" y="1128">5</text><text x="378.95" y="1120">8</text><text x="399.85" y="1115">10</text><text x="420.75" y="1123">7</text><text x="441.65" y="1125.5">6</text>
</g>
<g class="v9" fill="#cc2277">
<text x="65.45" y="1077">24</text><text x="86.35" y="1059">31</text><text x="107.25" y="1038">39</text><text x="128.15" y="1011">49</text><text x="149.05" y="1010">49</text><text x="169.95" y="1014">48</text><text x="190.85" y="1077">24</text><text x="211.75" y="1088">20</text><text x="232.65" y="1067">28</text><text x="253.55" y="1045.5">36</text><text x="274.45" y="1054">33</text><text x="295.35" y="1070">27</text><text x="316.25" y="1096.5">17</text><text x="337.15" y="1064.5">29</text><text x="358.05" y="1101.5">15</text><text x="378.95" y="1078">24</text><text x="399.85" y="1067">28</text><text x="420.75" y="1070">27</text><text x="441.65" y="1096.5">17</text>
</g>
<g class="st"><text x="63" y="999">Ff: 9.0 km/h</text><text x="133" y="999">Fxm: 30.4 km/h</text><text x="221" y="999">Fxx: 49.3 km/h</text><text x="305" y="999">Fmx: 28.8 km/h</text><text x="393" y="999">Ffx: 17.3 km/h</text><text x="475" y="999">nFx≥12Bft: 0</text></g>
<rect x="55" y="985" width="648" height="160" fill="none" stroke="#000" stroke-width="1.3"/>
<use href="#dl" transform="translate(0,1158)"/>

<text x="364" y="1171" font-size="11" fill="#999" text-anchor="middle">Datenbasis: Deutscher Wetterdienst, dwd.de | Meteogramm erstellt von mtwetter.de | 2025-10-19T03:26:48Z</text>
</svg>
</body></html>
